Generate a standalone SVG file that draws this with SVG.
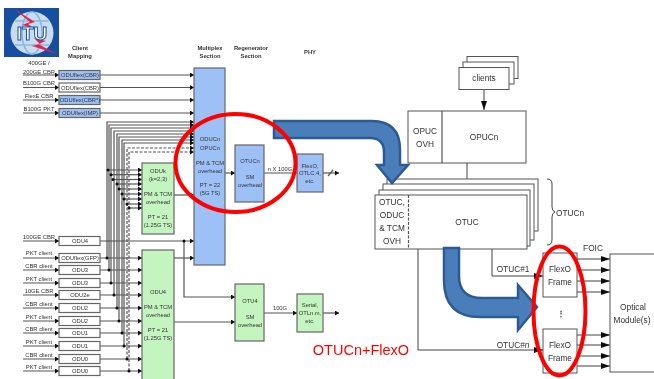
<svg xmlns="http://www.w3.org/2000/svg" width="654" height="379" viewBox="0 0 654 379">
<style>
text{font-family:"Liberation Sans",Arial,sans-serif;text-anchor:middle}
.s{font-size:5.800px;fill:#333}
.h{font-size:5.800px;fill:#333;font-weight:bold}
.r{font-size:8.300px;fill:#333}
.box{stroke:#666;stroke-width:1.2}
.blue{fill:#9dc1f7}.green{fill:#c4f5c0}.white{fill:#fff}
.rb{fill:#fff;stroke:#555;stroke-width:1}
.l{fill:none;stroke:#555;stroke-width:1.200}
.a{marker-end:url(#ah)}
.ra{fill:none;stroke:#444;stroke-width:1;marker-end:url(#big)}
.d{stroke-dasharray:3 1.500}
.ring{fill:none;stroke:#f00;stroke-width:4}
.bigarrow{fill:#4a7ebb;stroke:#2f5a94;stroke-width:2.500}
</style>
<defs>
<marker id="ah" markerUnits="userSpaceOnUse" markerWidth="5" markerHeight="5" refX="4" refY="2.500" orient="auto"><path d="M0,0L4,2.500L0,5z" fill="#111"/></marker>
<marker id="big" markerUnits="userSpaceOnUse" markerWidth="9" markerHeight="8" refX="9" refY="3" orient="auto"><path d="M0,0L9,3L0,6z" fill="#111"/></marker>
<filter id="soft" x="-2%" y="-2%" width="104%" height="104%"><feGaussianBlur stdDeviation="0.450"/></filter>
</defs>
<rect width="654" height="379" fill="#fff"/>
<g filter="url(#soft)">
<g id="itu-logo">
<rect x="4" y="8" width="55" height="49" fill="#12509f"/>
<circle cx="32" cy="33" r="21.500" fill="#c9dcf0"/>
<ellipse cx="32" cy="33" rx="10" ry="21" fill="none" stroke="#8db5dd" stroke-width="1.500"/>
<path d="M15,21H49M15,45H49" stroke="#8db5dd" stroke-width="1.500" fill="none"/>
<path d="M14,9L30,22L22,25L33,28L28,24L35,22Z" fill="#e5214f"/>
<path d="M57,54L38,44L46,41L34,38L40,44L32,46Z" fill="#e5214f"/>
<text x="32" y="40" font-size="19" font-weight="bold" fill="#fff" stroke="#12509f" stroke-width="1">ITU</text>
</g>
<g id="headers">
<text class="h" x="80" y="50">Client</text><text class="h" x="80" y="58">Mapping</text>
<text class="h" x="210" y="50">Multiplex</text><text class="h" x="210" y="58">Section</text>
<text class="h" x="251" y="50">Regenerator</text><text class="h" x="251" y="58">Section</text>
<text class="h" x="310" y="54">PHY</text>
</g>
<g id="connectors">
<path class="l a" d="M23,75H59"/><path class="l a" d="M100,75H194"/><path class="l a" d="M23,87.500H59"/><path class="l a" d="M100,87.500H194"/><path class="l a" d="M23,100H59"/><path class="l a" d="M100,100H194"/><path class="l a" d="M23,113H59"/><path class="l a" d="M100,113H194"/>
<path class="l a" d="M107,258V122H194"/><path class="l a" d="M109,270V125H194"/><path class="l a" d="M111,283V128H194"/><path class="l a" d="M114,295V131H194"/><path class="l a" d="M117,308V134H194"/><path class="l a" d="M119,321V137H194"/><path class="l a" d="M122,333V140H194"/><path class="l a" d="M124,346V143H194"/>
<path class="l d a" d="M127,359V148H194"/><path class="l d a" d="M129,371V152H194"/>
<path class="l a" d="M108,170H142"/><path class="l a" d="M111,174.700H142"/><path class="l a" d="M113,179.500H142"/><path class="l a" d="M117,184H142"/><path class="l a" d="M119,189H142"/><path class="l a" d="M122,194H142"/><path class="l a" d="M124,199H142"/><path class="l a" d="M127,204H142"/><path class="l a" d="M129,208H142"/>
<path class="l a" d="M174,195H194"/><path class="l a" d="M174,258H194"/><path class="l a" d="M23,241H59"/><path class="l a" d="M100,241H194"/>
<path class="l a" d="M23,258H59"/><path class="l a" d="M100,258H142"/><path class="l a" d="M23,270H59"/><path class="l a" d="M100,270H142"/><path class="l a" d="M23,283H59"/><path class="l a" d="M100,283H142"/><path class="l a" d="M23,295H59"/><path class="l a" d="M100,295H142"/><path class="l a" d="M23,308H59"/><path class="l a" d="M100,308H142"/><path class="l a" d="M23,321H59"/><path class="l a" d="M100,321H142"/><path class="l a" d="M23,333H59"/><path class="l a" d="M100,333H142"/><path class="l a" d="M23,346H59"/><path class="l a" d="M100,346H142"/><path class="l a" d="M23,359H59"/><path class="l a" d="M100,359H142"/><path class="l a" d="M23,371H59"/><path class="l a" d="M100,371H142"/>
<path class="l a" d="M184,241V297H235"/>
<path class="l a" d="M174,322H235"/>
<path class="l a" d="M225,173H235"/><path class="l" d="M264,173H297"/>
<path class="l a" d="M323,173H339"/>
<path class="l" d="M328,176L333,170"/>
<path class="l a" d="M264,313H297"/><path class="l a" d="M323,313H339"/>
<g fill="#111"><circle cx="184" cy="241" r="1.500"/><circle cx="108" cy="170" r="1.500"/><circle cx="111" cy="174.700" r="1.500"/><circle cx="113" cy="179.500" r="1.500"/><circle cx="117" cy="184" r="1.500"/><circle cx="119" cy="189" r="1.500"/><circle cx="122" cy="194" r="1.500"/><circle cx="124" cy="199" r="1.500"/><circle cx="127" cy="204" r="1.500"/><circle cx="129" cy="208" r="1.500"/><circle cx="107" cy="258" r="1.500"/><circle cx="109" cy="270" r="1.500"/><circle cx="111" cy="283" r="1.500"/><circle cx="114" cy="295" r="1.500"/><circle cx="117" cy="308" r="1.500"/><circle cx="119" cy="321" r="1.500"/><circle cx="122" cy="333" r="1.500"/><circle cx="124" cy="346" r="1.500"/><circle cx="127" cy="359" r="1.500"/><circle cx="129" cy="371" r="1.500"/></g>
<path class="ra" d="M484,89V110"/><path class="ra" d="M467,163V190"/>
<path class="ra" d="M492,249V276H543"/><path class="ra" d="M418,249V350H543"/>
<path class="ra" d="M577,259H610"/><path class="ra" d="M577,270H610"/><path class="ra" d="M577,281H610"/><path class="ra" d="M577,292H610"/><path class="ra" d="M577,335H610"/><path class="ra" d="M577,345H610"/><path class="ra" d="M577,356H610"/><path class="ra" d="M577,366H610"/>
<path fill="none" stroke="#444" stroke-width="1" d="M547,179Q552,179 552,184V207Q552,211 555,212Q552,213 552,217V240Q552,245 547,245"/>
</g>
<g id="client-labels">
<text class="s" x="39" y="65">400GE /</text><text class="s" x="39" y="74">200GE CBR</text>
<text class="s" x="39" y="85">B100G CBR</text><text class="s" x="39" y="98">FlexE CBR</text><text class="s" x="39" y="111">B100G PKT</text>
<text class="s" x="39" y="239">100GE CBR</text>
<text class="s" x="39" y="255">PKT client</text><text class="s" x="39" y="268">CBR client</text><text class="s" x="39" y="281">PKT client</text><text class="s" x="39" y="293">10GE CBR</text><text class="s" x="39" y="306">CBR client</text><text class="s" x="39" y="319">PKT client</text><text class="s" x="39" y="331">CBR client</text><text class="s" x="39" y="344">PKT client</text><text class="s" x="39" y="357">CBR client</text><text class="s" x="39" y="369">PKT client</text>
</g>
<g id="oduflex-cbr-1"><rect class="box blue" x="59" y="70.500" width="41" height="9"/><text class="s" x="80" y="77">ODUflex(CBR)</text></g>
<g id="oduflex-cbr-2"><rect class="box white" x="59" y="83" width="41" height="9"/><text class="s" x="80" y="89.500">ODUflex(CBR)</text></g>
<g id="oduflex-cbr-3"><rect class="box blue" x="59" y="95.500" width="41" height="9"/><text class="s" x="80" y="102">ODUflex(CBR*)</text></g>
<g id="oduflex-imp"><rect class="box blue" x="59" y="108.500" width="41" height="9"/><text class="s" x="80" y="115">ODUflex(IMP)</text></g>
<g id="odu4-client"><rect class="box white" x="59" y="236.500" width="41" height="9"/><text class="s" x="80" y="243">ODU4</text></g>
<g id="oduflex-gfp"><rect class="box white" x="59" y="253.500" width="41" height="9"/><text class="s" x="80" y="260">ODUflex(GFP)</text></g>
<g id="odu3-a"><rect class="box white" x="59" y="265.500" width="41" height="9"/><text class="s" x="80" y="272">ODU3</text></g>
<g id="odu3-b"><rect class="box white" x="59" y="278.500" width="41" height="9"/><text class="s" x="80" y="285">ODU3</text></g>
<g id="odu2e"><rect class="box white" x="59" y="290.500" width="41" height="9"/><text class="s" x="80" y="297">ODU2e</text></g>
<g id="odu2-a"><rect class="box white" x="59" y="303.500" width="41" height="9"/><text class="s" x="80" y="310">ODU2</text></g>
<g id="odu2-b"><rect class="box white" x="59" y="316.500" width="41" height="9"/><text class="s" x="80" y="323">ODU2</text></g>
<g id="odu1-a"><rect class="box white" x="59" y="328.500" width="41" height="9"/><text class="s" x="80" y="335">ODU1</text></g>
<g id="odu1-b"><rect class="box white" x="59" y="341.500" width="41" height="9"/><text class="s" x="80" y="348">ODU1</text></g>
<g id="odu0-a"><rect class="box white" x="59" y="354.500" width="41" height="9"/><text class="s" x="80" y="361">ODU0</text></g>
<g id="odu0-b"><rect class="box white" x="59" y="366.500" width="41" height="9"/><text class="s" x="80" y="373">ODU0</text></g>
<g id="oduk"><rect class="box green" x="142" y="163" width="32" height="71"/>
<text class="s" x="158" y="173">ODUk</text><text class="s" x="158" y="181">(k=2,3)</text><text class="s" x="158" y="196">PM &amp; TCM</text><text class="s" x="158" y="204">overhead</text><text class="s" x="158" y="219">PT = 21</text><text class="s" x="158" y="227">(1.25G TS)</text></g>
<g id="odu4-big"><rect class="box green" x="142" y="250" width="32" height="132"/>
<text class="s" x="158" y="294">ODU4</text><text class="s" x="158" y="309">PM &amp; TCM</text><text class="s" x="158" y="317">overhead</text><text class="s" x="158" y="332">PT = 21</text><text class="s" x="158" y="340">(1.25G TS)</text></g>
<g id="oducn"><rect class="box blue" x="194" y="68" width="31" height="197"/>
<text class="s" x="210" y="141">ODUCn</text><text class="s" x="210" y="150">OPUCn</text><text class="s" x="210" y="165">PM &amp; TCM</text><text class="s" x="210" y="173">overhead</text><text class="s" x="210" y="187">PT = 22</text><text class="s" x="210" y="195">(5G TS)</text></g>
<g id="otucn-sm"><rect class="box blue" x="235" y="145" width="29" height="57"/>
<text class="s" x="250" y="163">OTUCn</text><text class="s" x="250" y="179">SM</text><text class="s" x="250" y="187">overhead</text></g>
<g id="flexo-phy"><rect class="box blue" x="297" y="154" width="26" height="38"/>
<text class="s" x="310" y="168">FlexO,</text><text class="s" x="310" y="175">OTLC.4,</text><text class="s" x="310" y="183">etc.</text></g>
<text class="s" x="280" y="171">n X 100G</text>
<g id="otu4"><rect class="box green" x="235" y="284" width="29" height="57"/>
<text class="s" x="250" y="303">OTU4</text><text class="s" x="250" y="319">SM</text><text class="s" x="250" y="327">overhead</text></g>
<text class="s" x="280" y="310">100G</text>
<g id="serial"><rect class="box green" x="297" y="294" width="26" height="38"/>
<text class="s" x="310" y="307">Serial,</text><text class="s" x="310" y="315">OTLn.m,</text><text class="s" x="310" y="323">etc.</text></g>
<g id="clients"><rect class="rb" x="467" y="56.500" width="51" height="22"/><rect class="rb" x="463" y="62" width="51" height="22"/><rect class="rb" x="459" y="67.500" width="50" height="22"/><text class="r" x="484" y="81">clients</text></g>
<g id="opucn"><rect class="rb" x="408" y="111" width="118" height="52"/><path class="l" d="M442,111V163"/>
<text class="r" x="425" y="134">OPUC</text><text class="r" x="425" y="147">OVH</text><text class="r" x="484" y="140">OPUCn</text></g>
<g id="otuc-stack"><rect class="rb" x="387" y="179" width="151" height="52"/><rect class="rb" x="383" y="184" width="151" height="56"/><rect class="rb" x="379" y="190" width="151" height="56"/><rect class="rb" x="375" y="195" width="152" height="54"/>
<path class="l d" d="M408.500,195V249"/>
<text class="r" x="392" y="205">OTUC,</text><text class="r" x="392" y="218">ODUC</text><text class="r" x="392" y="231">&amp; TCM</text><text class="r" x="392" y="244">OVH</text><text class="r" x="467" y="225">OTUC</text></g>
<text class="r" x="570" y="216">OTUCn</text>
<text class="r" x="513" y="272">OTUC#1</text>
<text class="r" x="513" y="348">OTUC#<tspan font-style="italic">n</tspan></text>
<text class="r" x="593" y="251">FOIC</text>
<g id="flexo-1"><rect class="rb" x="543" y="253" width="34" height="44"/><text class="r" x="560" y="272">FlexO</text><text class="r" x="560" y="285">Frame</text></g>
<text class="r" x="561" y="316" font-weight="bold">⋮</text>
<g id="flexo-n"><rect class="rb" x="543" y="329" width="34" height="44"/><text class="r" x="560" y="348">FlexO</text><text class="r" x="560" y="361">Frame</text></g>
<g id="optical"><rect class="rb" x="610" y="254" width="50" height="118"/><text class="r" x="633" y="310">Optical</text><text class="r" x="632" y="323">Module(s)</text></g>
<path class="bigarrow" id="blue-arrow-1" d="M274,121H372Q400,121 400,150V165H408L392,183L377,165H384V152Q384,138 370,138H274Z"/>
<path class="bigarrow" id="blue-arrow-2" d="M444,248H459V276Q459,298 482,298H518V285L537,307L518,330V317H480Q444,317 444,280Z"/>
<ellipse class="ring" id="ring-1" cx="235.500" cy="163" rx="60" ry="49"/>
<ellipse class="ring" id="ring-2" cx="559.500" cy="311" rx="26" ry="64.500"/>
<text x="361" y="355" font-size="14.500" fill="#f00">OTUCn+FlexO</text>
</g>
</svg>
